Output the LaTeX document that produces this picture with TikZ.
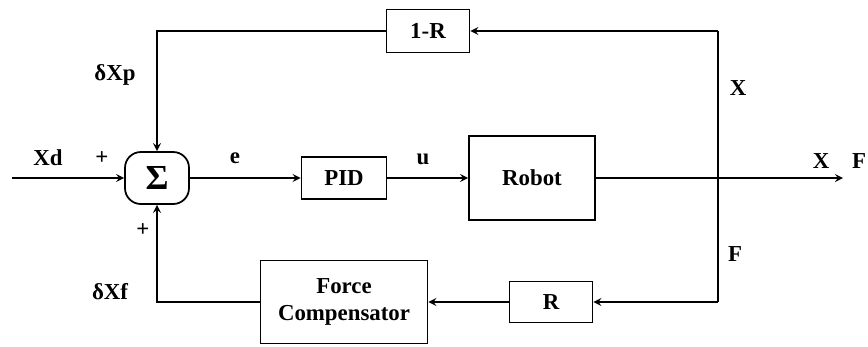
\documentclass[tikz,border=0pt]{standalone}
\usepackage{fontspec}
\setmainfont{Liberation Serif}
\usetikzlibrary{calc}
\begin{document}
\begin{tikzpicture}[x=0.02cm,y=-0.02cm,>=stealth,font=\fontsize{13}{15}\selectfont\bfseries]
  \tikzstyle{block}=[draw,line width=1pt,align=center]
  \tikzstyle{sumnode}=[draw,line width=1pt,rounded corners=9pt,minimum width=1.28cm,minimum height=1.04cm]
  \tikzstyle{edge}=[draw,line width=1pt,->]
  \tikzstyle{wire}=[draw,line width=1pt]
  \tikzstyle{lab}=[inner sep=1pt]
  \useasboundingbox (0,0) rectangle (868,346);
  \node[sumnode] (sum) at (157,178) {\fontsize{20}{22}\selectfont Σ};
  \node[block,minimum width=1.7cm,minimum height=0.84cm] (pid) at (344,178) {PID};
  \node[block,minimum width=2.52cm,minimum height=1.68cm] (robot) at (532,178) {Robot};
  \node[block,minimum width=1.66cm,minimum height=0.86cm] (oneminusr) at (428,31) {1-R};
  \node[block,minimum width=1.66cm,minimum height=0.82cm] (rgain) at (551,302) {R};
  \node[block,minimum width=3.34cm,minimum height=1.66cm] (comp) at (344,302) {Force\\Compensator};
  \coordinate (in) at (12,178);
  \coordinate (out) at (843,178);
  \coordinate (xtap) at (718,31);
  \coordinate (ftap) at (718,302);
  % labels
  \node[lab] (xd) at (48,158) {Xd};
  \node[lab] (plusa) at (102,158) {+};
  \node[lab] (plusb) at (143,230) {+};
  \node[lab] (e) at (235,158) {e};
  \node[lab] (u) at (423,159) {u};
  \node[lab] (dxp) at (115,75) {δXp};
  \node[lab] (dxf) at (110,292) {δXf};
  \node[lab] (xlab) at (738,88) {X};
  \node[lab] (flab) at (735,254) {F};
  \node[lab] (xout) at (821,161) {X};
  \node[lab] (fout) at (859,161) {F};
  % forward path
  \draw[edge] (in) -- (sum);
  \draw[edge] (sum) -- (pid);
  \draw[edge] (pid) -- (robot);
  \draw[edge] (robot) -- (out);
  % feedback
  \draw[wire] (xtap) -- (ftap);
  \draw[edge] (xtap) -- (oneminusr);
  \draw[edge] (oneminusr) -| (sum);
  \draw[edge] (ftap) -- (rgain);
  \draw[edge] (rgain) -- (comp);
  \draw[edge] (comp) -| (sum);
\end{tikzpicture}
\end{document}
